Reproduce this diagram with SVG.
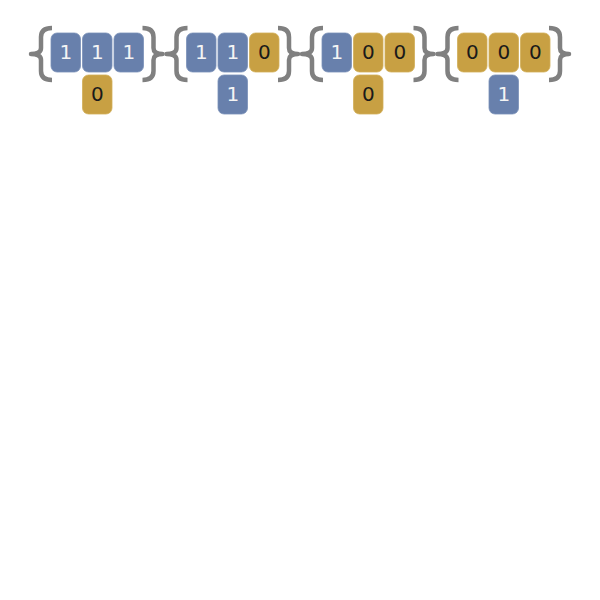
<svg xmlns="http://www.w3.org/2000/svg" width="600" height="600" viewBox="0 0 600 600">
<style>
.b{fill:#6880ac;stroke:#7a90b8;stroke-width:0.8}
.g{fill:#c8a043;stroke:#d2ae58;stroke-width:0.8}
.br{fill:none;stroke:#808080;stroke-width:4.5;stroke-linejoin:round}
text{font-family:"DejaVu Sans",sans-serif;font-size:20px;text-anchor:middle}
.tw{fill:#f4f4f4}
.tk{fill:#1a1a1a}
</style>
<defs>
<path id="lb" class="br" d="M1 28 Q-10 28 -10 37 L-10 48 Q-10 54 -20 54 Q-10 54 -10 60 L-10 71 Q-10 80 1 80"/>
<path id="rb" class="br" d="M-1 28 Q10 28 10 37 L10 48 Q10 54 19 54 Q10 54 10 60 L10 71 Q10 80 -1 80"/>
</defs>
<rect width="600" height="600" fill="#fff"/>
<g id="set1">
<use href="#lb" x="51"/><use href="#rb" x="143.5"/>
<g id="s1a"><rect class="b" x="51" y="33" width="29.5" height="39" rx="6"/><text class="tw" x="65.75" y="59">1</text></g>
<g id="s1b"><rect class="b" x="82.5" y="33" width="29.5" height="39" rx="6"/><text class="tw" x="97.25" y="59">1</text></g>
<g id="s1c"><rect class="b" x="114" y="33" width="29.5" height="39" rx="6"/><text class="tw" x="128.75" y="59">1</text></g>
<g id="s1d"><rect class="g" x="82.5" y="75" width="29.5" height="39" rx="6"/><text class="tk" x="97.25" y="101">0</text></g>
</g>
<g id="set2">
<use href="#lb" x="186.5"/><use href="#rb" x="279"/>
<g id="s2a"><rect class="b" x="186.5" y="33" width="29.5" height="39" rx="6"/><text class="tw" x="201.25" y="59">1</text></g>
<g id="s2b"><rect class="b" x="218" y="33" width="29.5" height="39" rx="6"/><text class="tw" x="232.75" y="59">1</text></g>
<g id="s2c"><rect class="g" x="249.5" y="33" width="29.5" height="39" rx="6"/><text class="tk" x="264.25" y="59">0</text></g>
<g id="s2d"><rect class="b" x="218" y="75" width="29.5" height="39" rx="6"/><text class="tw" x="232.75" y="101">1</text></g>
</g>
<g id="set3">
<use href="#lb" x="322"/><use href="#rb" x="414.5"/>
<g id="s3a"><rect class="b" x="322" y="33" width="29.5" height="39" rx="6"/><text class="tw" x="336.75" y="59">1</text></g>
<g id="s3b"><rect class="g" x="353.5" y="33" width="29.5" height="39" rx="6"/><text class="tk" x="368.25" y="59">0</text></g>
<g id="s3c"><rect class="g" x="385" y="33" width="29.5" height="39" rx="6"/><text class="tk" x="399.75" y="59">0</text></g>
<g id="s3d"><rect class="g" x="353.5" y="75" width="29.5" height="39" rx="6"/><text class="tk" x="368.25" y="101">0</text></g>
</g>
<g id="set4">
<use href="#lb" x="457.5"/><use href="#rb" x="550"/>
<g id="s4a"><rect class="g" x="457.5" y="33" width="29.5" height="39" rx="6"/><text class="tk" x="472.25" y="59">0</text></g>
<g id="s4b"><rect class="g" x="489" y="33" width="29.5" height="39" rx="6"/><text class="tk" x="503.75" y="59">0</text></g>
<g id="s4c"><rect class="g" x="520.5" y="33" width="29.5" height="39" rx="6"/><text class="tk" x="535.25" y="59">0</text></g>
<g id="s4d"><rect class="b" x="489" y="75" width="29.5" height="39" rx="6"/><text class="tw" x="503.75" y="101">1</text></g>
</g>
<g id="connectors"/>
</svg>
